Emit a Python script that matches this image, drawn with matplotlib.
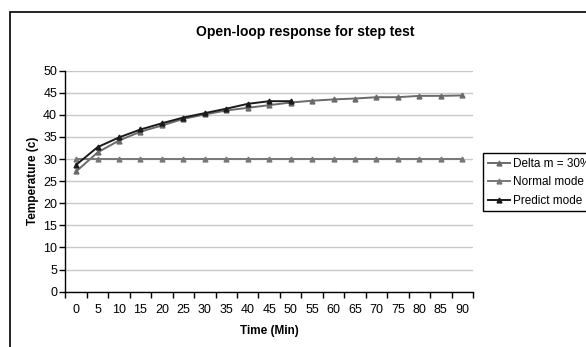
import numpy as np
import matplotlib
matplotlib.use('Agg')
import matplotlib.pyplot as plt
from matplotlib.patches import Rectangle

plt.rcParams['font.family'] = ['Liberation Sans', 'DejaVu Sans']

# data
time_min = [0, 5, 10, 15, 20, 25, 30, 35, 40, 45, 50, 55, 60, 65, 70, 75, 80, 85, 90]
delta_m = [27.2, 31.5, 34.2, 36.2, 37.6, 39.1, 40.1, 41.0, 41.6, 42.2, 42.8,
           43.2, 43.5, 43.7, 44.0, 44.0, 44.3, 44.3, 44.4]
normal_mode = [30.0] * 19
predict_mode = [28.7, 32.7, 34.9, 36.7, 38.1, 39.4, 40.4, 41.4, 42.5, 43.1, 43.1]

fig = plt.figure(figsize=(5.86, 3.47), dpi=100)
ax = fig.add_axes([0.1116, 0.1594, 0.6956, 0.6369])

# outer chart border (cut off at right/bottom like the reference)
fig.patches.append(Rectangle((10 / 586, -0.1), 1.2, 1 - 12 / 347 + 0.1,
                             transform=fig.transFigure, fill=False,
                             edgecolor='black', linewidth=1.2))

idx = np.arange(len(time_min))
ax.plot(idx, delta_m, color='#6a6a6a', lw=1.4, marker='^', ms=3.5,
        label='Delta m = 30%')
ax.plot(idx, normal_mode, color='#777777', lw=1.4, marker='^', ms=3.5,
        label='Normal mode')
ax.plot(idx[:len(predict_mode)], predict_mode, color='#1a1a1a', lw=1.4,
        marker='^', ms=3.5, label='Predict mode')

ax.set_xlim(-0.5, len(time_min) - 0.5)
ax.set_ylim(0, 50)
ax.set_yticks(range(0, 51, 5))
ax.set_xticks(idx)
ax.set_xticklabels([str(t) for t in time_min])
ax.set_xticks(np.arange(-0.5, len(time_min)), minor=True)
ax.tick_params(axis='x', which='major', length=0, pad=9, labelsize=9)
ax.tick_params(axis='x', which='minor', length=4, direction='out', width=1)
ax.tick_params(axis='y', length=4, width=1, labelsize=9, pad=2)

ax.grid(axis='y', color='#c8c8c8', lw=1)
ax.set_axisbelow(True)
for s in ['top', 'right']:
    ax.spines[s].set_visible(False)
ax.spines['left'].set_linewidth(1)
ax.spines['bottom'].set_linewidth(1)

ax.set_xlabel('Time (Min)', fontweight='bold', fontsize=8.5, labelpad=6)
ax.set_ylabel('Temperature (c)', fontweight='bold', fontsize=8.5, labelpad=3)
fig.text(305 / 586, 1 - 32 / 347, 'Open-loop response for step test',
         ha='center', va='center', fontweight='bold', fontsize=10)

leg = fig.legend(loc='upper left', bbox_to_anchor=(483 / 586, 1 - 153 / 347),
                 fontsize=8.5, frameon=True, fancybox=False, framealpha=1,
                 edgecolor='black', handlelength=1.9, handletextpad=0.2,
                 labelspacing=0.55, borderpad=0.4, borderaxespad=0)
leg.get_frame().set_linewidth(1)

fig.savefig('out.png', dpi=100)
